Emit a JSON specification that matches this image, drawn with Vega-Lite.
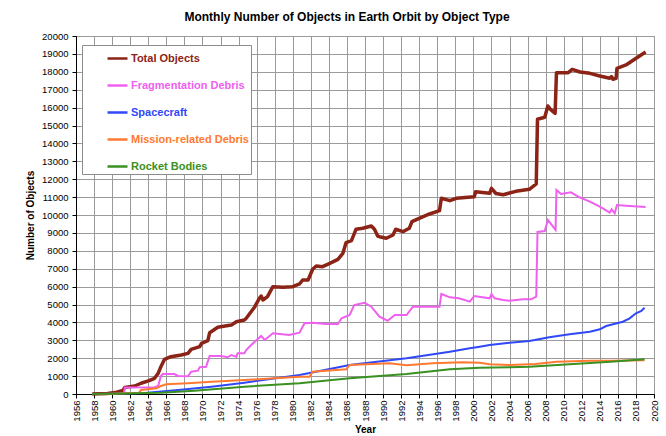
{
"$schema": "https://vega.github.io/schema/vega-lite/v6.json",
"width": 578, "height": 358,
"autosize": {"type": "none"},
"padding": {"left": 76, "top": 36, "right": 12, "bottom": 42},
"background": "white",
"title": {"text": "Monthly Number of Objects in Earth Orbit by Object Type", "font": "Liberation Sans", "fontSize": 12, "fontWeight": "bold", "color": "#000000", "offset": 7, "dx": -18},
"config": {"view": {"stroke": "#8c8c8c", "strokeWidth": 1}, "font": "Liberation Sans"},
"datasets": {
"total": [
{"year":1957.8,"value":2},{"year":1958.5,"value":10},{"year":1959.5,"value":30},{"year":1960.5,"value":100},{"year":1961.2,"value":200},{"year":1961.4,"value":370},{"year":1962.5,"value":447},{"year":1963.2,"value":600},{"year":1964.1,"value":743},{"year":1964.7,"value":877},{"year":1965.1,"value":1156},{"year":1965.4,"value":1525},{"year":1965.8,"value":1939},{"year":1966.5,"value":2084},{"year":1967.65,"value":2179},{"year":1968.4,"value":2272},{"year":1968.75,"value":2497},{"year":1969.7,"value":2643},{"year":1969.9,"value":2833},{"year":1970.6,"value":2978},{"year":1970.8,"value":3425},{"year":1971.7,"value":3726},{"year":1972.5,"value":3800},{"year":1973.2,"value":3850},{"year":1973.75,"value":4040},{"year":1974.65,"value":4134},{"year":1974.85,"value":4229},{"year":1975.8,"value":4877},{"year":1976.3,"value":5345},{"year":1976.5,"value":5475},{"year":1976.7,"value":5252},{"year":1977.2,"value":5437},{"year":1977.8,"value":5996},{"year":1978.9,"value":5960},{"year":1980.0,"value":5996},{"year":1980.75,"value":6146},{"year":1981.1,"value":6369},{"year":1981.7,"value":6369},{"year":1982.2,"value":6967},{"year":1982.6,"value":7151},{"year":1983.3,"value":7112},{"year":1984.1,"value":7300},{"year":1985.0,"value":7523},{"year":1985.55,"value":7860},{"year":1985.9,"value":8453},{"year":1986.5,"value":8565},{"year":1987.0,"value":9202},{"year":1987.75,"value":9257},{"year":1988.7,"value":9386},{"year":1989.05,"value":9202},{"year":1989.4,"value":8827},{"year":1989.6,"value":8788},{"year":1990.35,"value":8699},{"year":1991.1,"value":8883},{"year":1991.4,"value":9202},{"year":1992.2,"value":9068},{"year":1992.9,"value":9257},{"year":1993.2,"value":9626},{"year":1994.0,"value":9816},{"year":1995.15,"value":10057},{"year":1996.25,"value":10241},{"year":1996.45,"value":10934},{"year":1997.4,"value":10800},{"year":1998.1,"value":10934},{"year":2000.1,"value":11023},{"year":2000.25,"value":11303},{"year":2001.8,"value":11213},{"year":2002.0,"value":11490},{"year":2002.5,"value":11200},{"year":2003.3,"value":11135},{"year":2004.7,"value":11323},{"year":2006.2,"value":11435},{"year":2006.96,"value":11733},{"year":2007.1,"value":15347},{"year":2007.9,"value":15459},{"year":2008.25,"value":16090},{"year":2008.6,"value":15867},{"year":2009.05,"value":15682},{"year":2009.2,"value":17951},{"year":2010.5,"value":17951},{"year":2010.95,"value":18140},{"year":2011.8,"value":17990},{"year":2012.9,"value":17915},{"year":2014.0,"value":17767},{"year":2015.1,"value":17638},{"year":2015.3,"value":17728},{"year":2015.45,"value":17582},{"year":2015.8,"value":17638},{"year":2015.9,"value":18196},{"year":2016.9,"value":18381},{"year":2017.85,"value":18700},{"year":2018.4,"value":18884},{"year":2019.07,"value":19107}
],
"frag": [
{"year":1961.3,"value":0},{"year":1961.4,"value":370},{"year":1964.7,"value":374},{"year":1965.1,"value":447},{"year":1965.4,"value":1006},{"year":1965.6,"value":1117},{"year":1966.9,"value":1117},{"year":1967.3,"value":1006},{"year":1968.4,"value":990},{"year":1968.75,"value":1246},{"year":1969.5,"value":1302},{"year":1969.7,"value":1500},{"year":1970.4,"value":1525},{"year":1970.8,"value":2123},{"year":1972.1,"value":2123},{"year":1972.8,"value":2050},{"year":1973.2,"value":2179},{"year":1973.75,"value":2084},{"year":1973.9,"value":2272},{"year":1974.65,"value":2272},{"year":1974.85,"value":2458},{"year":1975.4,"value":2738},{"year":1976.0,"value":3017},{"year":1976.5,"value":3240},{"year":1976.9,"value":3017},{"year":1977.8,"value":3391},{"year":1979.6,"value":3296},{"year":1980.75,"value":3425},{"year":1981.3,"value":3950},{"year":1982.2,"value":3987},{"year":1983.7,"value":3911},{"year":1985.0,"value":3911},{"year":1985.4,"value":4229},{"year":1986.3,"value":4414},{"year":1986.8,"value":4972},{"year":1987.95,"value":5101},{"year":1988.7,"value":4877},{"year":1989.6,"value":4319},{"year":1990.5,"value":4095},{"year":1991.3,"value":4414},{"year":1992.6,"value":4414},{"year":1993.3,"value":4877},{"year":1996.25,"value":4877},{"year":1996.45,"value":5587},{"year":1997.4,"value":5401},{"year":1998.4,"value":5345},{"year":1999.6,"value":5157},{"year":2000.1,"value":5475},{"year":2001.8,"value":5345},{"year":2002.0,"value":5587},{"year":2002.35,"value":5345},{"year":2003.3,"value":5252},{"year":2004.0,"value":5213},{"year":2005.5,"value":5289},{"year":2006.4,"value":5289},{"year":2006.96,"value":5437},{"year":2007.1,"value":9051},{"year":2007.9,"value":9100},{"year":2008.25,"value":9721},{"year":2009.1,"value":9163},{"year":2009.2,"value":11397},{"year":2009.7,"value":11174},{"year":2010.8,"value":11267},{"year":2011.75,"value":10990},{"year":2012.9,"value":10745},{"year":2014.0,"value":10466},{"year":2015.1,"value":10131},{"year":2015.3,"value":10317},{"year":2015.65,"value":10094},{"year":2015.9,"value":10560},{"year":2016.9,"value":10520},{"year":2019.07,"value":10447}
],
"sc": [
{"year":1957.8,"value":2},{"year":1960,"value":20},{"year":1963.6,"value":60},{"year":1967.3,"value":223},{"year":1971.0,"value":410},{"year":1974.65,"value":633},{"year":1980.75,"value":1062},{"year":1986.3,"value":1620},{"year":1992.6,"value":1995},{"year":1997.4,"value":2363},{"year":1999.6,"value":2553},{"year":2000.7,"value":2643},{"year":2001.8,"value":2738},{"year":2004.0,"value":2868},{"year":2006.2,"value":2961},{"year":2008.4,"value":3167},{"year":2010.65,"value":3335},{"year":2012.9,"value":3481},{"year":2014.0,"value":3614},{"year":2014.7,"value":3799},{"year":2016.55,"value":4040},{"year":2017.3,"value":4229},{"year":2018.0,"value":4508},{"year":2018.6,"value":4637},{"year":2018.95,"value":4822}
],
"mrd": [
{"year":1957.8,"value":0},{"year":1960,"value":20},{"year":1963.0,"value":75},{"year":1963.2,"value":223},{"year":1964.9,"value":318},{"year":1965.4,"value":447},{"year":1966.0,"value":540},{"year":1968.4,"value":598},{"year":1971.0,"value":689},{"year":1974.65,"value":782},{"year":1980.75,"value":967},{"year":1981.85,"value":967},{"year":1982.2,"value":1246},{"year":1985.9,"value":1380},{"year":1986.3,"value":1620},{"year":1990.7,"value":1715},{"year":1992.6,"value":1600},{"year":1995.5,"value":1715},{"year":1998.8,"value":1771},{"year":2000.7,"value":1749},{"year":2001.8,"value":1660},{"year":2004.0,"value":1620},{"year":2006.9,"value":1676},{"year":2009.2,"value":1805},{"year":2012.9,"value":1860},{"year":2015.2,"value":1860},{"year":2018.95,"value":1880}
],
"rb": [
{"year":1957.8,"value":1},{"year":1960,"value":10},{"year":1965.4,"value":75},{"year":1969.1,"value":186},{"year":1974.65,"value":410},{"year":1980.75,"value":598},{"year":1986.3,"value":877},{"year":1992.6,"value":1117},{"year":1997.4,"value":1380},{"year":2000.7,"value":1469},{"year":2004.0,"value":1492},{"year":2006.2,"value":1527},{"year":2010.65,"value":1660},{"year":2015.2,"value":1805},{"year":2018.95,"value":1939}
]
},
"data": {"name": "total"},
"transform": [
{"calculate": "'Total Objects'", "as": "series"}
],
"layer": [
{"mark": {"type": "line", "strokeWidth": 3.5, "strokeJoin": "round"}},
{"data": {"name": "frag"}, "transform": [{"calculate": "'Fragmentation Debris'", "as": "series"}], "mark": {"type": "line", "strokeWidth": 2}},
{"data": {"name": "sc"}, "transform": [{"calculate": "'Spacecraft'", "as": "series"}], "mark": {"type": "line", "strokeWidth": 2}},
{"data": {"name": "mrd"}, "transform": [{"calculate": "'Mission-related Debris'", "as": "series"}], "mark": {"type": "line", "strokeWidth": 2}},
{"data": {"name": "rb"}, "transform": [{"calculate": "'Rocket Bodies'", "as": "series"}], "mark": {"type": "line", "strokeWidth": 2}}
],
"encoding": {
"x": {"field": "year", "type": "quantitative",
 "scale": {"domain": [1956, 2020], "nice": false, "zero": false},
 "axis": {"title": "Year", "values": [1956,1958,1960,1962,1964,1966,1968,1970,1972,1974,1976,1978,1980,1982,1984,1986,1988,1990,1992,1994,1996,1998,2000,2002,2004,2006,2008,2010,2012,2014,2016,2018,2020], "format": "d", "labelAngle": 270, "labelFontSize": 9.5, "labelColor": "#000", "labelPadding": 2, "labelFont": "Liberation Sans", "tickSize": 4, "tickColor": "#000", "domainColor": "#000", "grid": true, "gridColor": "#9a9a9a", "titleFont": "Liberation Sans", "titleFontSize": 10, "titleFontWeight": "bold", "titleColor": "#000", "titlePadding": 3, "labelOverlap": false}},
"y": {"field": "value", "type": "quantitative",
 "scale": {"domain": [0, 20000], "nice": false},
 "axis": {"title": "Number of Objects", "values": [0,1000,2000,3000,4000,5000,6000,7000,8000,9000,10000,11000,12000,13000,14000,15000,16000,17000,18000,19000,20000], "format": "d", "labelFontSize": 9.5, "labelColor": "#000", "labelPadding": 4, "labelFont": "Liberation Sans", "tickSize": 4, "tickColor": "#000", "domainColor": "#000", "grid": true, "gridColor": "#9a9a9a", "titleFont": "Liberation Sans", "titleFontSize": 10, "titleFontWeight": "bold", "titleColor": "#000", "titlePadding": 6, "labelOverlap": false}},
"color": {"field": "series", "type": "nominal",
 "scale": {"domain": ["Total Objects", "Fragmentation Debris", "Spacecraft", "Mission-related Debris", "Rocket Bodies"], "range": ["#8b2316", "#f060f0", "#3048f8", "#ff7a30", "#3a9020"]},
 "legend": {"orient": "none", "legendX": 6, "legendY": 9, "title": null, "symbolType": "stroke", "symbolSize": 400, "symbolStrokeWidth": 2.5, "symbolOffset": 22, "labelFont": "Liberation Sans", "labelFontSize": 11, "labelFontWeight": "bold", "labelOffset": 2, "rowPadding": 10, "padding": 2, "strokeColor": "#8c8c8c", "fillColor": "#ffffff",
  "encode": {
   "labels": {"update": {"fill": {"scale": "color", "field": "value"}}}
  }}}
}
}
